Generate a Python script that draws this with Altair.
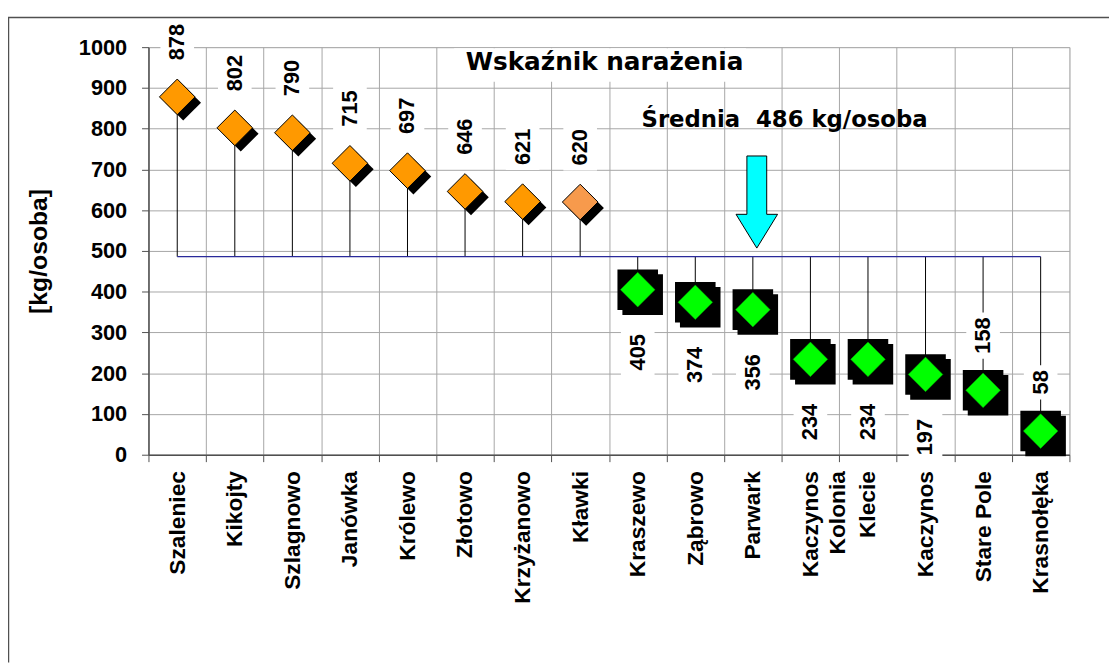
import altair as alt
import pandas as pd

categories = ["Szaleniec", "Kikojty", "Szlagnowo", "Janówka", "Królewo", "Złotowo",
              "Krzyżanowo", "Kławki", "Kraszewo", "Ząbrowo", "Parwark",
              "Kaczynos Kolonia", "Klecie", "Kaczynos", "Stare Pole", "Krasnołęka"]
values = [878, 802, 790, 715, 697, 646, 621, 620, 405, 374, 356, 234, 234, 197, 158, 58]
mean_value = 486
label_side = ["above"] * 8 + ["below"] * 6 + ["above", "above"]
marker_colors = ["#FF9900"] * 7 + ["#F79A4C"] + ["#00FF00"] * 8
y_ticks = list(range(0, 1001, 100))
title_text = "Wskaźnik narażenia"
mean_text = "Średnia \u00a0486 kg/osoba"
y_title = "[kg/osoba]"
arrow_category = "Parwark"
arrow_top = 733
arrow_tip = 507

W, H = 931, 412
k = H / 1000.0
LABEL_FS = 22
FONT = "Liberation Sans"

rows = []
for c, v, s, col in zip(categories, values, label_side, marker_colors):
    sign = 1 if s == "above" else -1
    gap = 37 if s == "above" else 45
    tlen = len(str(v)) * 0.556 * LABEL_FS
    rows.append(dict(
        cat=c, v=v, mean=mean_value, col=col,
        group="hi" if v > mean_value else "lo",
        box_a=v + sign * (gap - 5) / k,
        box_b=v + sign * (gap + tlen + 5) / k,
        text_y=v + sign * (gap + tlen / 2) / k,
        label=str(v),
    ))
df = pd.DataFrame(rows)
hi = df[df.group == "hi"]
lo = df[df.group == "lo"]

yscale = alt.Scale(domain=[0, 1000], nice=False, zero=True)
xscale = alt.Scale(paddingInner=0, paddingOuter=0)

x_axis = alt.Axis(
    title=None, labelAngle=270, labelAlign="right", labelBaseline="middle",
    labelFontSize=23, labelFontWeight="bold", labelFont=FONT, labelColor="black",
    labelPadding=9, tickBand="extent", tickSize=7, tickColor="#505050",
    grid=True, gridColor="#A6A6A6", gridWidth=1, domainColor="#505050", domainWidth=1.5,
    labelLineHeight=27,
    labelExpr="datum.value == 'Kaczynos Kolonia' ? ['Kaczynos', 'Kolonia'] : datum.label",
)
y_axis = alt.Axis(
    values=y_ticks, format="d", title=y_title, titleFontSize=25, titleFontWeight="bold",
    titleFont=FONT, titleColor="black", titleAngle=270, titleX=-111, titleY=H / 2,
    titleAlign="center", titleBaseline="middle",
    labelFontSize=22, labelFontWeight="bold", labelFont=FONT, labelColor="black",
    labelPadding=15, tickSize=7, tickColor="#505050",
    grid=True, gridColor="#A6A6A6", gridWidth=1, domainColor="#505050", domainWidth=1.5,
)


def X():
    return alt.X("cat:N", sort=categories, scale=xscale, axis=x_axis)


def Y(field):
    return alt.Y(field, type="quantitative", scale=yscale, axis=y_axis)


one = pd.DataFrame({"a": [0]})

frame_top = alt.Chart(one).mark_rule(color="#505050", strokeWidth=1.5).encode(
    x=alt.value(-142), x2=alt.value(W + 40), y=alt.value(-30))
frame_left = alt.Chart(one).mark_rule(color="#505050", strokeWidth=1.5).encode(
    x=alt.value(-141.5), y=alt.value(-30), y2=alt.value(H + 210))

drops = alt.Chart(df).mark_rule(color="black", strokeWidth=1).encode(
    x=X(), y=Y("mean"), y2="v:Q")

mean_df = pd.DataFrame({"cat": [categories[0], categories[-1]], "v": [mean_value, mean_value]})
mean_line = alt.Chart(mean_df).mark_line(color="#2A2A9A", strokeWidth=1.2).encode(
    x=X(), y=Y("v"))

title_box = alt.Chart(one).mark_rect(fill="white").encode(
    x=alt.value(309), x2=alt.value(604), y=alt.value(1), y2=alt.value(35))
title_mark = alt.Chart(one).mark_text(
    text=title_text, font="DejaVu Sans", fontWeight="bold", fontSize=25,
    align="center", baseline="alphabetic", color="black").encode(
    x=alt.value(461), y=alt.value(23.5))
mean_label = alt.Chart(one).mark_text(
    text=mean_text, font="DejaVu Sans", fontWeight="bold", fontSize=23,
    align="center", baseline="alphabetic", color="black").encode(
    x=alt.value(643), y=alt.value(80.5))

boxes = alt.Chart(df).mark_bar(color="white", width=34).encode(
    x=X(), y=Y("box_a"), y2="box_b:Q")
labels = alt.Chart(df).mark_text(
    angle=270, align="center", baseline="middle", font=FONT, fontWeight="bold",
    fontSize=LABEL_FS, color="black").encode(
    x=X(), y=Y("text_y"), text="label:N")

diamond_path = "M-1,0L0,-1L1,0L0,1Z"
hi_shadow = alt.Chart(hi).mark_point(
    shape=diamond_path, size=1296, filled=True, color="black", opacity=1,
    xOffset=6, yOffset=6).encode(x=X(), y=Y("v"))
hi_mark = alt.Chart(hi).mark_point(
    shape=diamond_path, size=1296, filled=True, opacity=1, stroke="black",
    strokeWidth=1).encode(x=X(), y=Y("v"), fill=alt.Fill("col:N", scale=None))

lo_shadow = alt.Chart(lo).mark_point(
    shape="square", size=1681, filled=True, color="black", opacity=1,
    xOffset=5, yOffset=5).encode(x=X(), y=Y("v"))
lo_square = alt.Chart(lo).mark_point(
    shape="square", size=1681, filled=True, color="black", opacity=1).encode(
    x=X(), y=Y("v"))
lo_mark = alt.Chart(lo).mark_point(
    shape=diamond_path, size=1225, filled=True, opacity=1, stroke="#00A000",
    strokeWidth=0.5).encode(x=X(), y=Y("v"), fill=alt.Fill("col:N", scale=None))

arrow_h = (arrow_top - arrow_tip) * k
half = arrow_h / 2
arrow_path = "M-{a:.3f},-1L{a:.3f},-1L{a:.3f},{b:.3f}L{c:.3f},{b:.3f}L0,1L-{c:.3f},{b:.3f}L-{a:.3f},{b:.3f}Z".format(
    a=10 / half, b=-1 + 59 / half, c=21 / half)
arrow_df = pd.DataFrame({"cat": [arrow_category], "v": [(arrow_top + arrow_tip) / 2]})
arrow = alt.Chart(arrow_df).mark_point(
    shape=arrow_path, size=arrow_h ** 2, filled=True, fill="#00FFFF", stroke="black",
    strokeWidth=1, opacity=1, xOffset=4).encode(x=X(), y=Y("v"))

chart = alt.layer(
    drops, frame_top, frame_left, mean_line, title_box, title_mark, mean_label,
    boxes, labels, hi_shadow, hi_mark, lo_shadow, lo_square, lo_mark, arrow,
).properties(
    width=W, height=H,
    padding={"left": 142, "top": 36, "right": 40, "bottom": 210},
    autosize=alt.AutoSizeParams(type="none"),
).configure_view(
    stroke="#808080", strokeWidth=1.5
).configure(font=FONT, background="white")

chart.save("out.html", embed_options={"renderer": "svg", "actions": False})
